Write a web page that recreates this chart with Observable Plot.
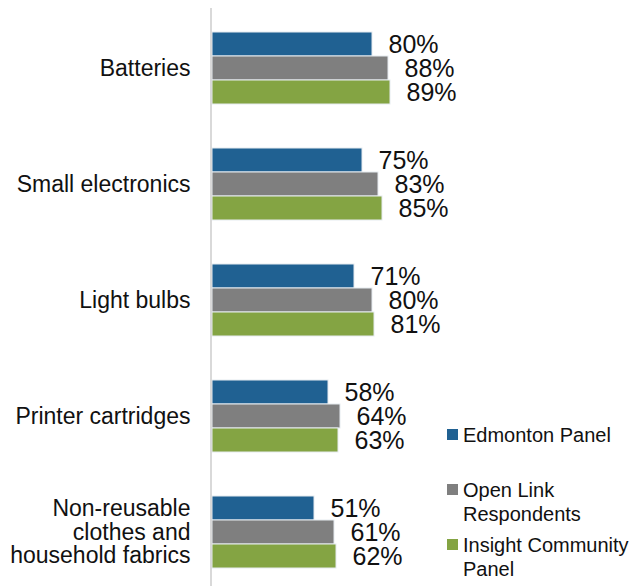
<!DOCTYPE html>
<html>
<head>
<meta charset="utf-8">
<script src="https://cdn.jsdelivr.net/npm/d3@7"></script>
<script src="https://cdn.jsdelivr.net/npm/@observablehq/plot@0.6"></script>
<style>
  html, body { margin: 0; padding: 0; background: #fff; }
  #wrap { position: relative; width: 631px; height: 586px; font-family: "Liberation Sans", Arial, sans-serif; }
  .leg { position: absolute; left: 447px; display: flex; align-items: flex-start; font-size: 20px; line-height: 24px; color: #111; }
  .sw { width: 11px; height: 11px; margin-top: 6px; margin-right: 5px; flex: none; }
</style>
</head>
<body>
<div id="wrap"></div>
<script>
const categories = ["Batteries", "Small electronics", "Light bulbs", "Printer cartridges", "Non-reusable\nclothes and\nhousehold fabrics"];
const seriesNames = ["Edmonton Panel", "Open Link Respondents", "Insight Community Panel"];
const legendLabels = ["Edmonton Panel", "Open Link<br>Respondents", "Insight Community<br>Panel"];
const colors = ["#206192", "#7f7f7f", "#84a443"];
const edmonton = [80, 75, 71, 58, 51];
const openLink = [88, 83, 80, 64, 61];
const insight = [89, 85, 81, 63, 62];

const seriesValues = [edmonton, openLink, insight];
const data = [];
categories.forEach((c, i) => {
  seriesNames.forEach((s, j) => {
    data.push({category: c, series: s, value: seriesValues[j][i]});
  });
});

const plot = Plot.plot({
  width: 631,
  height: 586,
  marginLeft: 212,
  marginRight: 219,
  marginTop: 30,
  marginBottom: 16,
  style: {fontFamily: "'Liberation Sans', Arial, sans-serif", color: "#111", background: "#fff"},
  x: {domain: [0, 100], axis: null},
  y: {domain: seriesNames, padding: 0, axis: null},
  fy: {domain: categories, paddingInner: 0.37, paddingOuter: 0, label: null},
  color: {domain: seriesNames, range: colors},
  marks: [
    Plot.axisFy({anchor: "left", tickSize: 0, tickPadding: 22, fontSize: 23, lineHeight: 1.03, label: null, fill: "#111"}),
    Plot.barX(data, {fy: "category", y: "series", x: "value", fill: "series", stroke: "#e6ebf0", strokeWidth: 1}),
    Plot.text(data, {fy: "category", y: "series", x: "value", text: d => d.value + "%", textAnchor: "start", dx: 16, fontSize: 25, fill: "#111"})
  ]
});

const wrap = document.getElementById("wrap");
wrap.appendChild(plot);

// vertical axis line at x = 0 spanning the full chart height
const x0 = plot.scale("x").apply(0) - 1;
d3.select(plot).append("line")
  .attr("x1", x0).attr("x2", x0)
  .attr("y1", 8).attr("y2", 586)
  .attr("stroke", "#d9d9d9").attr("stroke-width", 2);

// legend
const legendTops = [423, 478, 533];
seriesNames.forEach((s, i) => {
  const div = document.createElement("div");
  div.className = "leg";
  div.style.top = legendTops[i] + "px";
  div.innerHTML = `<span class="sw" style="background:${colors[i]}"></span><span>${legendLabels[i]}</span>`;
  wrap.appendChild(div);
});
</script>
</body>
</html>
